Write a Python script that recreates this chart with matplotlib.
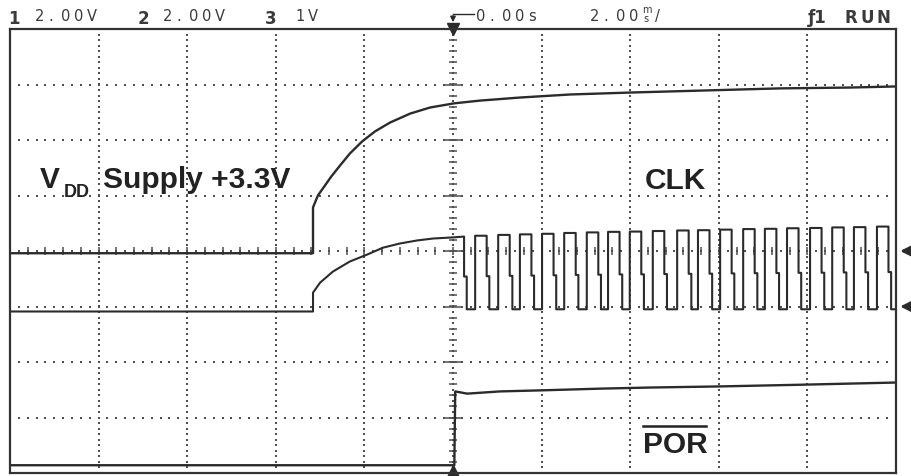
import numpy as np
import matplotlib.pyplot as plt
from matplotlib.lines import Line2D

# time base: ms (2 ms/div), channel voltages in V
vdd_t = [-10.0, -3.16, -3.16, -3.05, -2.89, -2.75, -2.55, -2.33, -2.05, -1.76, -1.42,
         -0.97, -0.52, 0.02, 0.61, 1.51, 2.64, 4.00, 5.58, 7.38, 8.96, 10.0]
vdd_v = [-0.08, -0.08, 1.57, 2.00, 2.36, 2.68, 3.08, 3.51, 3.95, 4.31, 4.63,
         4.95, 5.17, 5.32, 5.42, 5.53, 5.64, 5.71, 5.78, 5.86, 5.89, 5.93]

clk_ramp_t = [-10.0, -3.16, -3.16, -3.00, -2.71, -2.33, -1.94, -1.58, -1.20, -0.81, -0.45, 0.0, 0.25]
clk_ramp_v = [-0.18, -0.18, 0.50, 0.86, 1.26, 1.62, 1.87, 2.12, 2.27, 2.38, 2.45, 2.49, 2.52]
clk_rise = [0.50, 1.02, 1.51, 2.01, 2.51, 3.02, 3.50, 3.99, 4.51, 5.06, 5.53, 6.03, 6.55,
            7.04, 7.54, 8.06, 8.56, 9.05, 9.57]
clk_fall = [0.76, 1.28, 1.77, 2.27, 2.77, 3.28, 3.76, 4.25, 4.77, 5.32, 5.79, 6.29, 6.81,
            7.30, 7.80, 8.32, 8.82, 9.31, 9.83]
clk_high = [2.55, 2.58, 2.60, 2.62, 2.65, 2.67, 2.69, 2.70, 2.72, 2.74, 2.75, 2.77, 2.79,
            2.80, 2.82, 2.83, 2.85, 2.86, 2.88]
clk_low = -0.10

por_t = [-10.0, 0.03, 0.05, 0.32, 1.06, 2.03, 3.32, 4.45, 6.03, 7.83, 10.0]
por_v = [0.14, 0.14, 1.47, 1.43, 1.47, 1.49, 1.52, 1.54, 1.56, 1.59, 1.63]

# channel ground position (div) and V/div
ch_offset = {1: 0.0, 2: -1.0, 3: -4.0}
ch_scale = {1: 2.0, 2: 2.0, 3: 1.0}

W, H = 912, 477
fig = plt.figure(figsize=(W / 100, H / 100), dpi=100)
ax = fig.add_axes([10 / W, 3 / H, 886 / W, 444 / H])
ax.set_xlim(-10, 10)
ax.set_ylim(-4, 4)
ax.set_xticks([])
ax.set_yticks([])
for s in ax.spines.values():
    s.set_linewidth(1.6)
    s.set_color('#333333')

ink = '#2b2b2b'
gc = '#505050'

# dotted graticule
for gx in [-8, -6, -4, -2, 2, 4, 6, 8]:
    ys = np.arange(-3.9, 4.0, 0.1)
    ax.plot(np.full_like(ys, gx), ys, ls='none', marker='s', ms=1.5, mew=0, color=gc)
for gy in [-3, -2, -1, 1, 2, 3]:
    xs = np.arange(-9.8, 10.0, 0.2)
    ax.plot(xs, np.full_like(xs, gy), ls='none', marker='s', ms=1.5, mew=0, color=gc)

# center axes with tick marks
xs = np.arange(-9.8, 10.0, 0.2)
ax.plot(xs, np.zeros_like(xs), ls='none', marker='s', ms=1.5, mew=0, color=gc)
ax.vlines(np.arange(-9.6, 10.0, 0.4), -0.07, 0.07, color=gc, lw=1.1)
ys = np.arange(-3.9, 4.0, 0.1)
ax.plot(np.zeros_like(ys), ys, ls='none', marker='s', ms=1.5, mew=0, color=gc)
ax.hlines(np.arange(-3.8, 4.0, 0.2), -0.08, 0.08, color=gc, lw=1.1)
ax.hlines(np.arange(-3, 4, 1), -0.18, 0.18, color=gc, lw=1.1)


def to_div(v, ch):
    return ch_offset[ch] + np.asarray(v) / ch_scale[ch]


# channel 1: supply
ax.plot(vdd_t, to_div(vdd_v, 1), color=ink, lw=1.7)

# channel 2: clock
ct = list(clk_ramp_t)
cv = list(clk_ramp_v)
jog = 0.06
mid = 0.45
ct += [clk_ramp_t[-1], clk_ramp_t[-1] + jog, clk_ramp_t[-1] + jog]
m0 = clk_low + mid * (clk_ramp_v[-1] - clk_low)
cv += [m0, m0, clk_low]
for r, f, h in zip(clk_rise, clk_fall, clk_high):
    m = clk_low + mid * (h - clk_low)
    ct += [r, r, f, f, f + jog, f + jog]
    cv += [clk_low, h, h, m, m, clk_low]
ct.append(10.0)
cv.append(clk_low)
ax.plot(ct, to_div(cv, 2), color=ink, lw=1.5)

# channel 3: POR
ax.plot(por_t, to_div(por_v, 3), color=ink, lw=1.7)

# trigger / reference markers
ax.plot([0], [4.0], marker='v', ms=9, color=ink, clip_on=False)
ax.plot([0], [-4.0], marker='^', ms=11, color=ink, clip_on=False)
for y in [0.0, -1.0]:
    ax.annotate('', xy=(10.03, y), xytext=(10.4, y), annotation_clip=False,
                arrowprops=dict(arrowstyle='-|>', color=ink, lw=2.0, mutation_scale=18))


def px(x, y):
    return x / W, 1 - y / H


# reference arrow from header
fig.add_artist(Line2D([453 / W, 474 / W], [1 - 15 / H, 1 - 15 / H], color=ink, lw=1.0))
ax.annotate('', xy=px(453, 26), xytext=px(453, 14), xycoords='figure fraction',
            arrowprops=dict(arrowstyle='-|>', color=ink, lw=1.0, mutation_scale=8))


def mono(text, x0, y, pitch=13, size=10.5, weight='normal'):
    for i, c in enumerate(text):
        fig.text(*px(x0 + i * pitch, y), c, fontsize=size, fontweight=weight,
                 family='DejaVu Sans', color='#3a3a3a', va='baseline', ha='left')


# header
mono('1', 8, 24, size=12, weight='bold')
mono('2.00V', 35, 21)
mono('2', 138, 24, size=12, weight='bold')
mono('2.00V', 163, 21)
mono('3', 265, 24, size=12, weight='bold')
mono('1V', 295, 21)
mono('0.00s', 476, 21)
mono('2.00', 590, 21)
fig.text(*px(642, 13), 'm', fontsize=7, family='DejaVu Sans', color='#3a3a3a', va='baseline')
fig.text(*px(643, 22), 's', fontsize=7, family='DejaVu Sans', color='#3a3a3a', va='baseline')
fig.text(*px(655, 21), '/', fontsize=10.5, family='DejaVu Sans', color='#3a3a3a', va='baseline')
fig.text(*px(808, 23), 'ƒ1', fontsize=12, fontweight='bold', family='DejaVu Sans',
         color='#3a3a3a', va='baseline')
mono('RUN', 845, 23, pitch=16, size=12, weight='bold')

# signal labels
lab = dict(family='Liberation Sans', fontweight='bold', color='#222222', va='baseline')
fig.text(*px(40, 188), 'V', fontsize=21.5, **lab)
fig.text(*px(64, 197), 'DD', fontsize=13, **lab)
fig.text(*px(103, 188), 'Supply +3.3V', fontsize=21.5, **lab)
fig.text(*px(645, 189), 'CLK', fontsize=21.5, **lab)
fig.text(*px(643, 453), 'POR', fontsize=21.5, **lab)
fig.add_artist(Line2D([643 / W, 706 / W], [1 - 427 / H, 1 - 427 / H], color='#222222', lw=1.8))

fig.savefig('out.png', dpi=100)
